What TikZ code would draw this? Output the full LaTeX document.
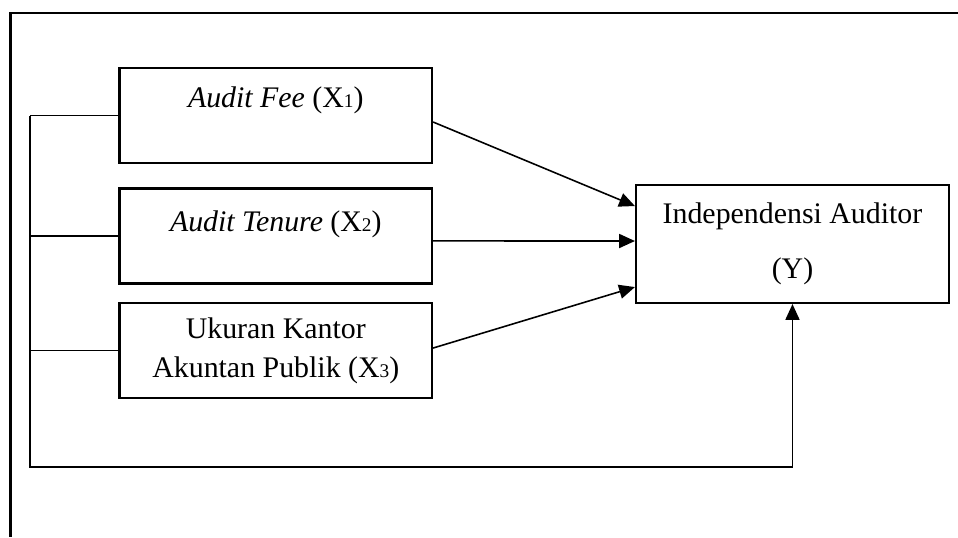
\documentclass[tikz,border=0pt]{standalone}
\usepackage{fontspec}
\setmainfont{Liberation Serif}
\usepackage{tikz}
\usetikzlibrary{arrows.meta}
\newcommand{\ind}[1]{{\fontsize{11}{11}\selectfont #1}}

\begin{document}
\begin{tikzpicture}[scale=0.2,
	kotak/.style={draw=black, line width=1.2pt, minimum width=6.25cm, minimum height=1.9cm},
	panah/.style={-{Triangle[length=9pt,width=8pt]}, line width=0.9pt},
	garis/.style={line width=0.9pt}]
	\tikzstyle{every node}+=[inner sep=0pt, font=\fontsize{17}{20}\selectfont]
	\useasboundingbox (0,0) rectangle (95.8,-53.7);
	\draw [black, line width=1.2pt] (95.8,-1.27) -- (1.05,-1.27) -- (1.05,-53.7);
	\node (fee) [kotak] at (27.58,-11.55) {};
	\node (feet) [anchor=base] at (27.58,-10.7) {\textit{Audit Fee} (X\ind{1})};
	\node (tenure) [kotak] at (27.58,-23.6) {};
	\node (tenuret) [anchor=base] at (27.58,-23.1) {\textit{Audit Tenure} (X\ind{2})};
	\node (kap) [kotak] at (27.58,-35.05) {};
	\node (kapt1) [anchor=base] at (27.58,-33.8) {Ukuran Kantor};
	\node (kapt2) [anchor=base] at (27.58,-37.7) {Akuntan Publik (X\ind{3})};
	\node (indep) [kotak, minimum width=6.26cm, minimum height=2.36cm] at (79.25,-24.4) {};
	\node (indept1) [anchor=base] at (79.25,-22.3) {Independensi Auditor};
	\node (indept2) [anchor=base] at (79.25,-27.8) {(Y)};
	\draw [panah] ([yshift=-18.5pt]fee.east) -- ([yshift=108pt]indep.west);
	\draw [panah] ([yshift=-14pt]tenure.east) -- ([yshift=8.5pt]indep.west);
	\draw [panah] ([yshift=7pt]kap.east) -- ([yshift=-122.5pt]indep.west);
	\coordinate (sudut) at (3.0,-46.7);
	\draw [garis] (fee.west) -- (fee.west -| sudut);
	\draw [garis] (tenure.west) -- (tenure.west -| sudut);
	\draw [garis] (kap.west) -- (kap.west -| sudut);
	\draw [panah] (fee.west -| sudut) -- (sudut) -| (indep.south);
\end{tikzpicture}
\end{document}
